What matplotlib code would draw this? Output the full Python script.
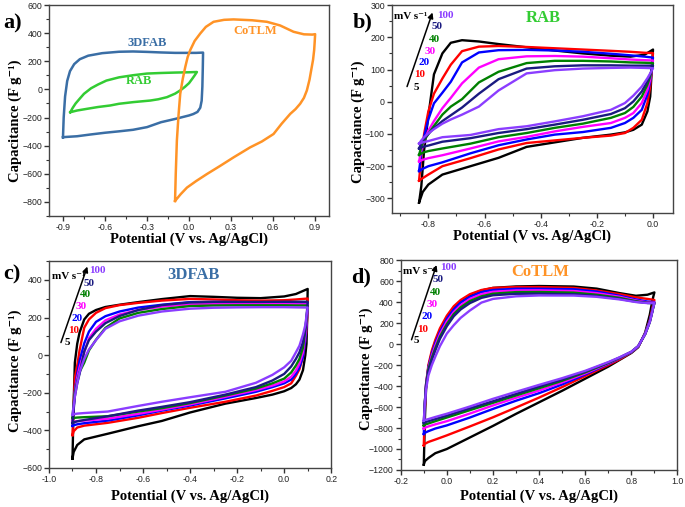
import matplotlib
matplotlib.use('Agg')
import matplotlib.pyplot as plt
from matplotlib.ticker import MultipleLocator, FormatStrFormatter

plt.rcParams['font.family'] = ['Liberation Serif', 'DejaVu Serif']
plt.rcParams['font.weight'] = 'bold'

# scan rates (mV/s) and colours
rates = ['5', '10', '20', '30', '40', '50', '100']
rate_colors = ['#000000', '#ff0000', '#0000ff', '#ff00ff', '#008000', '#1a1a80', '#8b3dff']

# ---- panel a : 3 electrodes at 5 mV/s ----
a_3dfab_v_up = [-0.9, -0.895, -0.885, -0.87, -0.85, -0.82, -0.78, -0.72, -0.62, -0.5, -0.4, -0.3, -0.2, -0.1, 0.0, 0.05, 0.1]
a_3dfab_up = [-340, -200, -50, 60, 130, 180, 215, 240, 258, 268, 270, 267, 263, 260, 260, 260, 262]
a_3dfab_v_dn = [0.1, 0.098, 0.095, 0.09, 0.08, 0.06, 0.03, 0.0, -0.1, -0.2, -0.3, -0.4, -0.5, -0.6, -0.7, -0.8, -0.88, -0.9]
a_3dfab_dn = [262, 150, 20, -80, -130, -160, -175, -185, -210, -233, -268, -287, -298, -308, -320, -333, -338, -340]

a_rab_v_up = [-0.848, -0.83, -0.81, -0.78, -0.75, -0.7, -0.65, -0.59, -0.5, -0.4, -0.3, -0.2, -0.1, 0.0, 0.056]
a_rab_up = [-162, -130, -100, -65, -31, 8, 35, 63, 86, 101, 113, 117, 120, 122, 124]
a_rab_v_dn = [0.056, 0.04, 0.02, 0.0, -0.03, -0.063, -0.1, -0.158, -0.22, -0.277, -0.396, -0.5, -0.562, -0.65, -0.729, -0.8, -0.848]
a_rab_dn = [124, 100, 72, 45, 18, -7, -30, -55, -70, -79, -90, -102, -114, -125, -138, -150, -162]

a_co_v_up = [-0.1, -0.095, -0.087, -0.075, -0.063, -0.045, -0.027, -0.01, 0.008, 0.04, 0.08, 0.12, 0.175, 0.25, 0.318, 0.45, 0.556, 0.65, 0.746, 0.82, 0.88, 0.9]
a_co_up = [-793, -600, -364, -180, -31, 75, 160, 230, 279, 345, 398, 445, 481, 495, 498, 492, 481, 455, 410, 392, 390, 393]
a_co_v_dn = [0.9, 0.897, 0.893, 0.885, 0.876, 0.86, 0.841, 0.82, 0.793, 0.76, 0.722, 0.66, 0.603, 0.52, 0.436, 0.318, 0.22, 0.127, 0.05, -0.015, -0.06, -0.1]
a_co_dn = [393, 340, 279, 210, 160, 70, -7, -60, -102, -140, -174, -245, -317, -370, -412, -483, -545, -602, -652, -698, -745, -793]

# ---- panel b : RAB ----
b_v_up = [-0.833, -0.825, -0.815, -0.80, -0.78, -0.75, -0.72, -0.68, -0.62, -0.55, -0.45, -0.35, -0.25, -0.15, -0.08, -0.03, 0.0]
b_up = [
    [-313, -262, -150, -45, 85, 150, 183, 191, 187, 179, 169, 159, 150, 143, 140, 146, 162],
    [-245, -170, -100, -30, 25, 72, 115, 157, 171, 173, 170, 166, 162, 158, 155, 152, 151],
    [-215, -160, -108, -55, -5, 28, 62, 122, 153, 160, 161, 159, 155, 149, 144, 140, 137],
    [-185, -150, -120, -90, -60, -20, 12, 57, 106, 132, 141, 142, 140, 135, 131, 129, 128],
    [-165, -140, -120, -100, -75, -40, -15, 8, 60, 93, 120, 127, 127, 125, 122, 121, 120],
    [-145, -128, -115, -100, -82, -60, -42, -18, 25, 70, 103, 110, 113, 113, 112, 112, 112],
    [-130, -120, -110, -98, -85, -68, -55, -40, -15, 35, 88, 98, 103, 105, 106, 105, 104],
]
b_v_dn = [0.0, -0.01, -0.02, -0.04, -0.07, -0.10, -0.15, -0.25, -0.35, -0.45, -0.55, -0.65, -0.75, -0.80, -0.82, -0.833]
b_dn = [
    [162, 16, -30, -71, -87, -95, -102, -112, -126, -140, -174, -200, -226, -257, -280, -313],
    [151, 47, -4, -56, -81, -97, -105, -112, -120, -128, -148, -175, -200, -226, -237, -245],
    [137, 63, 22, -25, -50, -66, -81, -94, -102, -117, -135, -160, -188, -200, -208, -215],
    [128, 70, 37, -4, -35, -50, -66, -78, -92, -109, -123, -145, -166, -175, -180, -185],
    [120, 78, 53, 16, -16, -35, -50, -68, -81, -97, -110, -130, -145, -153, -158, -165],
    [112, 84, 63, 32, 1, -20, -38, -56, -71, -85, -97, -113, -124, -136, -140, -145],
    [104, 88, 73, 47, 19, -4, -25, -45, -61, -76, -85, -103, -110, -122, -126, -130],
]

# ---- panel c : 3DFAB ----
c_v_up = [-0.90, -0.895, -0.89, -0.88, -0.87, -0.85, -0.83, -0.80, -0.76, -0.70, -0.62, -0.52, -0.40, -0.30, -0.20, -0.10, 0.0, 0.05, 0.10]
c_up = [
    [-550, -250, -40, 60, 120, 190, 220, 240, 256, 268, 282, 298, 314, 310, 305, 303, 312, 325, 352],
    [-425, -260, -120, -56, 25, 146, 190, 225, 250, 266, 278, 290, 299, 296, 292, 290, 292, 296, 301],
    [-375, -280, -190, -100, -30, 63, 125, 177, 207, 232, 253, 268, 282, 283, 282, 281, 280, 279, 278],
    [-345, -270, -200, -120, -65, 15, 90, 140, 185, 216, 240, 258, 270, 272, 272, 272, 271, 270, 270],
    [-330, -260, -200, -140, -90, -40, 25, 82, 145, 195, 225, 245, 261, 264, 265, 265, 265, 264, 264],
    [-360, -290, -220, -150, -100, 20, 80, 125, 170, 208, 240, 266, 280, 283, 283, 283, 284, 284, 284],
    [-315, -270, -220, -150, -90, -20, 30, 80, 140, 180, 210, 232, 247, 252, 254, 255, 255, 254, 253],
]
c_v_dn = [0.10, 0.098, 0.095, 0.09, 0.08, 0.065, 0.05, 0.03, 0.0, -0.05, -0.12, -0.25, -0.40, -0.52, -0.62, -0.75, -0.85, -0.88, -0.895, -0.90]
c_dn = [
    [352, 200, 60, 0, -80, -130, -155, -175, -192, -210, -228, -258, -305, -350, -378, -418, -448, -478, -515, -550],
    [301, 200, 130, 80, -10, -75, -110, -150, -170, -190, -215, -248, -280, -308, -333, -360, -375, -385, -405, -426],
    [278, 220, 150, 80, -10, -65, -100, -130, -150, -170, -195, -230, -268, -295, -320, -348, -362, -368, -373, -377],
    [270, 230, 175, 110, 15, -45, -82, -115, -140, -162, -186, -222, -262, -290, -312, -338, -348, -351, -354, -356],
    [264, 235, 195, 135, 40, -20, -55, -92, -125, -150, -178, -215, -255, -282, -300, -325, -330, -332, -334, -335],
    [284, 250, 200, 140, 70, 15, -20, -60, -100, -135, -170, -210, -250, -275, -295, -325, -345, -352, -358, -362],
    [253, 235, 210, 160, 110, 50, 15, -30, -65, -105, -147, -195, -224, -248, -270, -300, -308, -311, -314, -317],
]

# ---- panel d : CoTLM ----
d_v_up = [-0.1, -0.095, -0.09, -0.08, -0.065, -0.05, -0.03, 0.0, 0.03, 0.06, 0.10, 0.15, 0.20, 0.30, 0.40, 0.55, 0.65, 0.75, 0.82, 0.87, 0.9]
d_up = [
    [-1149, -700, -420, -220, -80, 20, 130, 250, 340, 405, 465, 510, 535, 549, 553, 548, 528, 485, 460, 470, 492],
    [-965, -600, -380, -200, -60, 40, 150, 270, 360, 420, 475, 515, 535, 543, 543, 535, 510, 475, 445, 430, 420],
    [-857, -560, -380, -220, -90, 10, 115, 240, 330, 395, 450, 495, 515, 527, 527, 522, 500, 460, 425, 405, 400],
    [-806, -550, -380, -230, -110, -15, 95, 215, 305, 370, 430, 475, 498, 511, 512, 505, 485, 450, 415, 397, 395],
    [-775, -540, -390, -240, -130, -40, 70, 190, 285, 350, 410, 455, 480, 495, 496, 490, 470, 440, 408, 392, 390],
    [-752, -540, -400, -260, -150, -60, 50, 170, 265, 330, 390, 440, 465, 479, 480, 475, 458, 430, 403, 392, 390],
    [-730, -560, -430, -300, -200, -120, -20, 100, 180, 250, 320, 395, 430, 455, 463, 462, 450, 425, 400, 390, 390],
]
d_v_dn = [0.9, 0.895, 0.89, 0.88, 0.86, 0.83, 0.80, 0.75, 0.70, 0.60, 0.50, 0.40, 0.30, 0.20, 0.10, 0.0, -0.05, -0.08, -0.095, -0.1]
d_dn = [
    [492, 450, 400, 280, 110, -30, -85, -150, -215, -330, -445, -555, -665, -780, -890, -1000, -1040, -1086, -1115, -1149],
    [420, 380, 330, 230, 100, -25, -80, -145, -200, -305, -410, -510, -605, -698, -785, -870, -910, -933, -950, -965],
    [400, 360, 310, 220, 100, -22, -78, -135, -190, -290, -385, -468, -540, -618, -700, -775, -805, -830, -845, -857],
    [395, 355, 305, 215, 100, -20, -76, -132, -185, -280, -365, -443, -512, -585, -662, -735, -765, -785, -797, -806],
    [390, 350, 300, 210, 95, -20, -75, -130, -180, -270, -350, -421, -490, -560, -630, -700, -735, -757, -767, -775],
    [390, 350, 300, 210, 95, -20, -74, -128, -176, -262, -338, -405, -475, -545, -612, -682, -715, -735, -745, -752],
    [390, 350, 300, 210, 95, -20, -73, -125, -172, -255, -325, -389, -455, -522, -595, -664, -695, -715, -724, -730],
]

XLABEL = 'Potential (V vs. Ag/AgCl)'
YLABEL = 'Capacitance (F g\u207b\u00b9)'


def style_axes(ax, xlim, ylim, xmaj, xmin, ymaj, ymin):
    ax.set_xlim(*xlim)
    ax.set_ylim(*ylim)
    ax.xaxis.set_major_locator(MultipleLocator(xmaj))
    ax.xaxis.set_minor_locator(MultipleLocator(xmin))
    ax.yaxis.set_major_locator(MultipleLocator(ymaj))
    ax.yaxis.set_minor_locator(MultipleLocator(ymin))
    ax.xaxis.set_major_formatter(FormatStrFormatter('%.1f'))
    ax.tick_params(which='both', direction='out', top=False, right=False, colors='#333333')
    ax.tick_params(which='major', length=3.5, width=1, labelsize=6.3, pad=1.5)
    ax.tick_params(which='minor', length=2, width=0.8)
    for lab in ax.get_xticklabels() + ax.get_yticklabels():
        lab.set_family('Liberation Sans')
        lab.set_fontweight('normal')
        lab.set_color('#222222')
    for sp in ax.spines.values():
        sp.set_color('#444444')
        sp.set_linewidth(1.0)
    ax.set_xlabel(XLABEL, fontsize=10.5, fontweight='bold')
    ax.set_ylabel(YLABEL, fontsize=10.5, fontweight='bold')


def rate_labels(ax, arrow_start, arrow_end, unit_pos, pos_list):
    ax.annotate('', xy=arrow_end, xytext=arrow_start,
                arrowprops=dict(arrowstyle='-|>', color='black', lw=1.1, mutation_scale=8))
    ax.text(unit_pos[0], unit_pos[1], 'mV s\u207b\u00b9', fontsize=8, fontweight='bold',
            ha='center', va='center', color='black')
    for (x, y), r, col in zip(pos_list, rates, rate_colors):
        ax.text(x, y, r, fontsize=8, fontweight='bold', color=col, ha='center', va='center')


fig = plt.figure(figsize=(6.85, 5.07), dpi=100)
ax_a = fig.add_axes([0.0715, 0.574, 0.409, 0.416])
ax_b = fig.add_axes([0.572, 0.580, 0.410, 0.410])
ax_c = fig.add_axes([0.0715, 0.077, 0.412, 0.408])
ax_d = fig.add_axes([0.585, 0.073, 0.404, 0.414])

# panel a
ax_a.plot(a_3dfab_v_up + a_3dfab_v_dn, a_3dfab_up + a_3dfab_dn, color='#3a6ea5', lw=1.8)
ax_a.plot(a_rab_v_up + a_rab_v_dn, a_rab_up + a_rab_dn, color='#33cc33', lw=1.8)
ax_a.plot(a_co_v_up + a_co_v_dn, a_co_up + a_co_dn, color='#ff9326', lw=1.8)
ax_a.text(-0.3, 330, '3DFAB', color='#3a6ea5', fontsize=9, fontweight='bold', ha='center', va='center')
ax_a.text(-0.36, 57, 'RAB', color='#33cc33', fontsize=9, fontweight='bold', ha='center', va='center')
ax_a.text(0.47, 417, 'CoTLM', color='#ff9326', fontsize=9, fontweight='bold', ha='center', va='center')
style_axes(ax_a, (-1.0, 1.0), (-900, 600), 0.3, 0.15, 200, 100)

# panel b
for up, dn, col in zip(b_up, b_dn, rate_colors):
    ax_b.plot(b_v_up + b_v_dn, up + dn, color=col, lw=1.7)
ax_b.text(-0.389, 259, 'RAB', color='#33cc33', fontsize=12, fontweight='bold', ha='center', va='center')
rate_labels(ax_b, (-0.879, 39), (-0.782, 285), (-0.862, 266),
            [(-0.844, 45), (-0.83, 84), (-0.814, 122), (-0.792, 156), (-0.78, 194), (-0.768, 235), (-0.741, 269)])
style_axes(ax_b, (-0.93, 0.07), (-345, 300), 0.2, 0.1, 100, 50)

# panel c
for up, dn, col in zip(c_up, c_dn, rate_colors):
    ax_c.plot(c_v_up + c_v_dn, up + dn, color=col, lw=1.7)
ax_c.text(-0.386, 428, '3DFAB', color='#3a6ea5', fontsize=12, fontweight='bold', ha='center', va='center')
rate_labels(ax_c, (-0.953, 53), (-0.833, 485), (-0.918, 419),
            [(-0.921, 67), (-0.896, 132), (-0.882, 194), (-0.864, 261), (-0.843, 322), (-0.828, 381), (-0.794, 449)])
style_axes(ax_c, (-1.0, 0.2), (-600, 500), 0.2, 0.1, 200, 100)

# panel d
for up, dn, col in zip(d_up, d_dn, rate_colors):
    ax_d.plot(d_v_up + d_v_dn, up + dn, color=col, lw=1.7)
ax_d.text(0.405, 683, 'CoTLM', color='#ff9326', fontsize=12, fontweight='bold', ha='center', va='center')
rate_labels(ax_d, (-0.157, 16), (-0.041, 778), (-0.12, 692),
            [(-0.131, 35), (-0.104, 143), (-0.087, 263), (-0.065, 375), (-0.051, 492), (-0.036, 613), (0.007, 730)])
style_axes(ax_d, (-0.2, 1.0), (-1200, 800), 0.2, 0.1, 200, 100)

# label placement
ax_a.yaxis.set_label_coords(-0.095, 0.45)
ax_b.yaxis.set_label_coords(-0.097, 0.44)
ax_c.yaxis.set_label_coords(-0.095, 0.47)
ax_d.yaxis.set_label_coords(-0.1, 0.48)
ax_a.xaxis.set_label_coords(0.5, -0.08)
ax_b.xaxis.set_label_coords(0.5, -0.082)
ax_c.xaxis.set_label_coords(0.5, -0.106)
ax_d.xaxis.set_label_coords(0.5, -0.095)

for txt, x, y in [('a)', 0.018, 0.953), ('b)', 0.530, 0.955), ('c)', 0.017, 0.458), ('d)', 0.527, 0.452)]:
    fig.text(x, y, txt, fontsize=16, fontweight='bold', ha='center', va='center')

fig.savefig('out.png', dpi=100)
